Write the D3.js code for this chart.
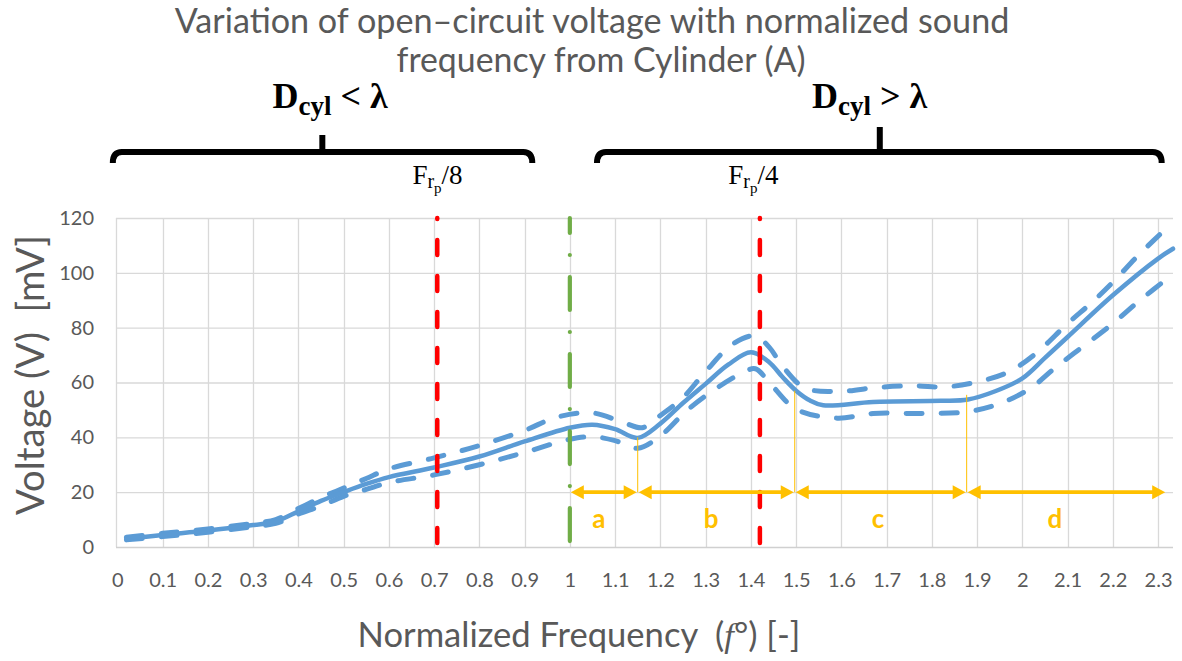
<!DOCTYPE html>
<html>
<head>
<meta charset="utf-8">
<script src="https://cdn.jsdelivr.net/npm/d3@7.9.0/dist/d3.min.js"></script>
<style>
  html, body { margin: 0; padding: 0; background: #fff; }
  svg { display: block; }
</style>
</head>
<body>
<div id="chart"></div>
<script>
// ---- data ----
const xTickValues = [0,0.1,0.2,0.3,0.4,0.5,0.6,0.7,0.8,0.9,1,1.1,1.2,1.3,1.4,1.5,1.6,1.7,1.8,1.9,2,2.1,2.2,2.3];
const xTickLabels = ['0','0.1','0.2','0.3','0.4','0.5','0.6','0.7','0.8','0.9','1','1.1','1.2','1.3','1.4','1.5','1.6','1.7','1.8','1.9','2','2.1','2.2','2.3'];
const yTickValues = [0,20,40,60,80,100,120];

// mean voltage [f, mV]
const meanSeries = [
  [0.02,3.0],[0.1,4.4],[0.2,6.0],[0.3,8.0],[0.35,9.3],[0.4,13.0],[0.45,16.8],[0.5,20.0],
  [0.55,23.0],[0.6,25.5],[0.7,29.0],[0.8,33.0],[0.9,38.5],[1.0,43.5],[1.05,44.6],[1.1,43.0],
  [1.15,39.8],[1.2,45.0],[1.25,52.5],[1.3,59.5],[1.35,66.5],[1.4,71.0],[1.44,67.5],[1.47,62.0],
  [1.5,57.0],[1.53,53.5],[1.56,51.7],[1.67,52.9],[1.82,53.3],[1.88,53.8],[1.94,56.8],[2.0,61.5],
  [2.05,69.0],[2.1,76.6],[2.2,91.8],[2.3,105.2],[2.333,108.8]
];
// upper bound (dashed)
const upperSeries = [
  [0.02,3.6],[0.1,5.0],[0.2,6.6],[0.3,8.6],[0.35,10.0],[0.4,14.0],[0.45,18.0],[0.5,21.5],
  [0.55,25.0],[0.6,28.5],[0.7,32.5],[0.8,37.0],[0.9,42.5],[0.97,47.3],[1.05,48.9],[1.12,45.3],
  [1.16,43.5],[1.2,48.0],[1.25,54.5],[1.3,64.0],[1.36,74.0],[1.41,77.0],[1.44,73.0],[1.47,66.0],
  [1.52,58.0],[1.6,56.8],[1.68,58.2],[1.76,58.8],[1.83,58.4],[1.9,60.2],[1.97,63.9],[2.03,70.6],
  [2.1,81.5],[2.155,89.4],[2.2,96.6],[2.26,107.0],[2.333,118.5]
];
// lower bound (dashed)
const lowerSeries = [
  [0.02,2.6],[0.1,3.8],[0.2,5.4],[0.3,7.4],[0.35,8.6],[0.4,12.0],[0.45,15.0],[0.5,18.5],
  [0.55,21.0],[0.6,23.5],[0.7,26.3],[0.8,30.0],[0.9,34.5],[1.0,39.3],[1.05,40.2],[1.1,38.8],
  [1.15,36.0],[1.2,40.5],[1.26,50.0],[1.325,58.0],[1.385,63.8],[1.41,65.0],[1.446,59.0],[1.5,50.3],
  [1.59,47.0],[1.67,48.7],[1.78,48.7],[1.877,49.3],[1.95,52.3],[2.017,57.8],[2.075,65.7],
  [2.138,73.6],[2.2,81.5],[2.26,90.0],[2.333,99.5]
];

// reference lines (Frp/8, Frp/4 and f = 1)
const redLines = [0.707, 1.42];
const greenLines = [1.0];

// yellow ranges a..d
const segLevel = 20;
const segments = [
  { label: 'a', from: 1.0,   to: 1.15,  labelF: 1.064 },
  { label: 'b', from: 1.15,  to: 1.497, labelF: 1.312 },
  { label: 'c', from: 1.497, to: 1.877, labelF: 1.681 },
  { label: 'd', from: 1.877, to: 2.318, labelF: 2.072 }
];
const tieLines = [[1.15, 40], [1.497, 57], [1.877, 55.5]];

// braces above the plot
const braces = [
  { from: -0.01, to: 0.917, mid: 0.453, rel: '<', freq: '8', freqF: 0.652, labelF: 0.343 },
  { from: 1.06,  to: 2.308, mid: 1.685, rel: '>', freq: '4', freqF: 1.350, labelF: 1.535 }
];

// ---- drawing ----
const W = 1182, H = 661;
const grey = '#595959', gridC = '#d9d9d9', blue = '#5b9bd5', gold = '#ffc000';

const svg = d3.select('#chart').append('svg').attr('width', W).attr('height', H);

const x = d3.scaleLinear().domain([-0.003, 2.333]).range([116, 1173]);
const y = d3.scaleLinear().domain([0, 120]).range([547, 218]);

function fit(sel, w) {
  const len = sel.node().getComputedTextLength();
  const fs = parseFloat(sel.attr('font-size'));
  sel.attr('font-size', (fs * w / len).toFixed(2));
  return sel;
}

// title
const t1 = svg.append('text').attr('x', 592).attr('y', 33).attr('text-anchor', 'middle')
  .attr('font-family', 'Lato').attr('font-size', 29).attr('fill', grey)
  .text('Variation of open\u2013circuit voltage with normalized sound');
fit(t1, 835);
const t2 = svg.append('text').attr('x', 601).attr('y', 72).attr('text-anchor', 'middle')
  .attr('font-family', 'Lato').attr('font-size', 29).attr('fill', grey)
  .text('frequency from Cylinder (A)');
fit(t2, 409);

// grid
const grid = svg.append('g');
grid.selectAll('line.h').data(yTickValues.slice(1)).join('line')
  .attr('x1', x.range()[0]).attr('x2', x.range()[1])
  .attr('y1', d => y(d) + 0.5).attr('y2', d => y(d) + 0.5)
  .attr('stroke', gridC).attr('stroke-width', 1.3);
grid.selectAll('line.v').data(xTickValues.slice(1)).join('line')
  .attr('x1', d => Math.round(x(d)) + 0.5).attr('x2', d => Math.round(x(d)) + 0.5)
  .attr('y1', y(120)).attr('y2', y(0))
  .attr('stroke', gridC).attr('stroke-width', 1.3);
// axis lines
svg.append('line').attr('x1', x.range()[0] + 0.5).attr('x2', x.range()[0] + 0.5)
  .attr('y1', y(120)).attr('y2', y(0)).attr('stroke', gridC).attr('stroke-width', 1.3);
svg.append('line').attr('x1', x.range()[0]).attr('x2', x.range()[1])
  .attr('y1', y(0) + 0.5).attr('y2', y(0) + 0.5).attr('stroke', '#d0d0d0').attr('stroke-width', 1.5);

// axes (labels only)
const yAxis = svg.append('g').attr('transform', `translate(${x.range()[0] - 22},0)`)
  .call(d3.axisLeft(y).tickValues(yTickValues).tickSize(0).tickPadding(0));
yAxis.select('.domain').remove();
yAxis.selectAll('text').attr('font-family', 'Lato').attr('font-size', 20).attr('fill', grey);

const xAxis = svg.append('g').attr('transform', `translate(0,${y(0) + 26})`)
  .call(d3.axisBottom(x).tickValues(xTickValues).tickFormat((d, i) => xTickLabels[i]).tickSize(0).tickPadding(0));
xAxis.select('.domain').remove();
xAxis.selectAll('text').attr('font-family', 'Lato').attr('font-size', 20).attr('fill', grey);

// axis titles
const yt = svg.append('text').attr('transform', 'translate(44,375) rotate(-90)')
  .attr('text-anchor', 'middle').attr('font-family', 'Lato').attr('font-size', 27).attr('fill', grey)
  .attr('xml:space', 'preserve').text('Voltage (V)  [mV]');
fit(yt, 280);

const xt = svg.append('text').attr('x', 579).attr('y', 647).attr('text-anchor', 'middle')
  .attr('font-family', 'Lato').attr('font-size', 28).attr('fill', grey).attr('xml:space', 'preserve');
xt.append('tspan').text('Normalized Frequency  (');
xt.append('tspan').attr('font-family', 'Liberation Serif').attr('font-style', 'italic').text('f');
xt.append('tspan').text('\u00b0) [-]');
fit(xt, 443);

// series
const line = d3.line().x(d => x(d[0])).y(d => y(d[1])).curve(d3.curveCatmullRom.alpha(0.5));
const series = svg.append('g').attr('fill', 'none').attr('stroke', blue)
  .attr('stroke-linecap', 'round').attr('stroke-linejoin', 'round');
[upperSeries, lowerSeries].forEach(s => {
  series.append('path').datum(s).attr('d', line)
    .attr('stroke-width', 5).attr('stroke-dasharray', '16,19');
});
series.append('path').datum(meanSeries).attr('d', line).attr('stroke-width', 4.5);

// reference lines
svg.selectAll('line.red').data(redLines).join('line')
  .attr('x1', d => x(d)).attr('x2', d => x(d)).attr('y1', y(120)).attr('y2', y(0))
  .attr('stroke', '#ff0000').attr('stroke-width', 4.5).attr('stroke-linecap', 'round')
  .attr('stroke-dasharray', '15,21').attr('stroke-dashoffset', -22);
svg.selectAll('line.green').data(greenLines).join('line')
  .attr('x1', d => x(d)).attr('x2', d => x(d)).attr('y1', y(120)).attr('y2', y(0))
  .attr('stroke', '#70ad47').attr('stroke-width', 4.2).attr('stroke-linecap', 'round')
  .attr('stroke-dasharray', '33,22,0.01,22').attr('stroke-dashoffset', 18);

// yellow ranges
const seg = svg.append('g');
seg.selectAll('line.tie').data(tieLines).join('line')
  .attr('x1', d => x(d[0])).attr('x2', d => x(d[0]))
  .attr('y1', y(segLevel)).attr('y2', d => y(d[1]))
  .attr('stroke', gold).attr('stroke-width', 1);
const head = 13, hw = 7;
segments.forEach(s => {
  const x0 = x(s.from) + 1, x1 = x(s.to) - 1, yy = y(segLevel);
  seg.append('line').attr('x1', x0 + head - 2).attr('x2', x1 - head + 2)
    .attr('y1', yy).attr('y2', yy).attr('stroke', gold).attr('stroke-width', 3.6);
  seg.append('path').attr('fill', gold)
    .attr('d', `M${x0},${yy}L${x0 + head},${yy - hw}L${x0 + head},${yy + hw}Z`);
  seg.append('path').attr('fill', gold)
    .attr('d', `M${x1},${yy}L${x1 - head},${yy - hw}L${x1 - head},${yy + hw}Z`);
  seg.append('text').attr('x', x(s.labelF)).attr('y', y(segLevel) + 36)
    .attr('text-anchor', 'middle').attr('font-family', 'Lato').attr('font-weight', 'bold')
    .attr('font-size', 26).attr('fill', gold).text(s.label);
});

// braces and regime labels
const braceY = 152;
braces.forEach((b, i) => {
  const x0 = x(b.from), x1 = x(b.to), xm = x(b.mid);
  svg.append('path').attr('fill', 'none').attr('stroke', '#000').attr('stroke-width', 6)
    .attr('stroke-linejoin', 'round')
    .attr('d', `M${x0},${braceY + 11}Q${x0},${braceY} ${x0 + 9},${braceY}L${x1 - 9},${braceY}Q${x1},${braceY} ${x1},${braceY + 11}`);
  svg.append('line').attr('x1', xm).attr('x2', xm).attr('y1', braceY)
    .attr('y2', braceY - (i === 0 ? 17 : 25)).attr('stroke', '#000').attr('stroke-width', 6);

  const lab = svg.append('text').attr('x', x(b.labelF)).attr('y', 108)
    .attr('font-family', 'Liberation Serif').attr('font-weight', 'bold').attr('font-size', 36).attr('fill', '#000')
    .attr('xml:space', 'preserve');
  lab.append('tspan').text('D');
  lab.append('tspan').attr('font-size', 27).attr('dy', 7).text('cyl');
  lab.append('tspan').attr('dy', -7).text(` ${b.rel} \u03bb`);

  const fr = svg.append('text').attr('x', x(b.freqF)).attr('y', 184)
    .attr('font-family', 'Liberation Serif').attr('font-size', 27).attr('fill', '#000');
  fr.append('tspan').text('F');
  fr.append('tspan').attr('font-size', 20).attr('dy', 4).text('r');
  fr.append('tspan').attr('font-size', 15).attr('dy', 5).text('p');
  fr.append('tspan').attr('dy', -9).text('/' + b.freq);
});
</script>
</body>
</html>
